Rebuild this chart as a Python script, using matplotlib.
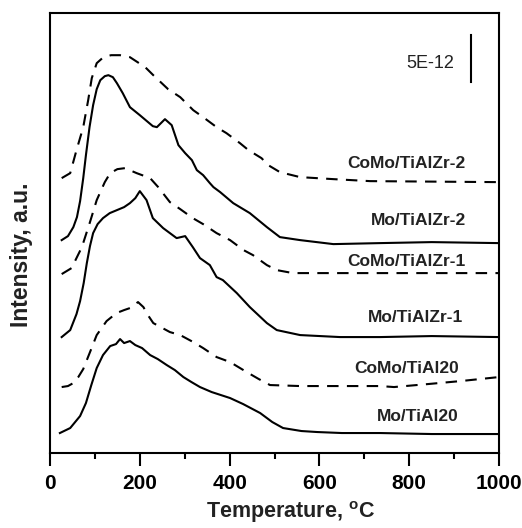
import numpy as np
import matplotlib.pyplot as plt

plt.rcParams['font.family'] = ['Liberation Sans', 'DejaVu Sans']
plt.rcParams['mathtext.fontset'] = 'custom'
plt.rcParams['mathtext.bf'] = 'Liberation Sans:bold'
plt.rcParams['mathtext.rm'] = 'Liberation Sans:bold'

# TPD traces, offset stacked (arbitrary units)
t_mo_tial20 = [22, 45, 67, 80, 92, 104, 118, 134, 147, 156, 165, 178, 190, 205, 223, 240, 260, 278, 297, 315, 334, 360, 401, 430, 468, 495, 519, 560, 595, 650, 735, 850, 1000]
i_mo_tial20 = [20, 25, 37, 50, 68, 85, 98, 107, 109, 114, 110, 112, 108, 105, 98, 94, 88, 83, 76, 71, 66, 61, 55, 49, 40, 31, 25, 22, 21, 20, 20, 19, 19]

t_como_tial20 = [26, 40, 52, 63, 74, 90, 104, 126, 148, 165, 178, 196, 208, 218, 230, 267, 290, 319, 341, 371, 401, 438, 465, 490, 557, 650, 735, 766, 842, 915, 1000]
i_como_tial20 = [66, 67, 70, 76, 84, 102, 118, 132, 140, 143, 145, 151, 146, 138, 130, 121, 118, 111, 105, 96, 91, 81, 74, 68, 67, 67, 67, 66, 69, 72, 76]

t_mo_tialzr1 = [26, 45, 59, 67, 75, 82, 89, 96, 106, 118, 133, 149, 165, 178, 190, 200, 215, 229, 252, 282, 301, 318, 334, 356, 371, 385, 416, 445, 483, 505, 557, 646, 735, 850, 1000]
i_mo_tialzr1 = [116, 123, 139, 152, 170, 190, 207, 220, 229, 235, 240, 243, 246, 250, 255, 262, 253, 235, 225, 215, 217, 206, 195, 188, 176, 173, 160, 146, 130, 123, 118, 116, 116, 117, 116]

t_como_tialzr1 = [26, 48, 71, 89, 104, 122, 134, 150, 167, 193, 223, 241, 267, 290, 318, 341, 371, 401, 431, 452, 483, 505, 541, 640, 735, 850, 1000]
i_como_tialzr1 = [179, 185, 206, 231, 253, 271, 280, 284, 285, 280, 275, 266, 251, 244, 235, 229, 220, 213, 203, 198, 188, 183, 180, 180, 180, 180, 180]

t_mo_tialzr2 = [26, 40, 52, 60, 67, 74, 80, 88, 96, 104, 112, 122, 130, 140, 149, 162, 178, 200, 229, 238, 256, 271, 286, 301, 316, 327, 341, 356, 364, 379, 408, 445, 483, 512, 557, 631, 735, 850, 1000]
i_mo_tialzr2 = [213, 217, 226, 236, 252, 275, 298, 326, 348, 364, 373, 377, 378, 376, 370, 360, 346, 338, 327, 326, 334, 328, 308, 300, 293, 283, 278, 270, 266, 261, 250, 240, 226, 216, 213, 209, 210, 211, 210]

t_como_tialzr2 = [26, 45, 59, 74, 85, 93, 104, 119, 136, 156, 178, 212, 230, 263, 290, 319, 341, 371, 393, 423, 442, 471, 486, 512, 557, 631, 713, 1000]
i_como_tialzr2 = [275, 280, 303, 326, 353, 375, 390, 396, 398, 398, 396, 386, 378, 364, 356, 343, 336, 326, 320, 310, 303, 295, 288, 281, 276, 274, 272, 271]

series = [
    (t_mo_tial20, i_mo_tial20, '-', 'Mo/TiAl20', 911, 37),
    (t_como_tial20, i_como_tial20, '--', 'CoMo/TiAl20', 911, 85),
    (t_mo_tialzr1, i_mo_tialzr1, '-', 'Mo/TiAlZr-1', 920, 136),
    (t_como_tialzr1, i_como_tialzr1, '--', 'CoMo/TiAlZr-1', 926, 192),
    (t_mo_tialzr2, i_mo_tialzr2, '-', 'Mo/TiAlZr-2', 926, 233),
    (t_como_tialzr2, i_como_tialzr2, '--', 'CoMo/TiAlZr-2', 926, 290),
]

fig = plt.figure(figsize=(5.22, 5.28), dpi=100)
ax = fig.add_axes([0.0958, 0.142, 0.8602, 0.833])

for t, inten, ls, name, lx, ly in series:
    if ls == '--':
        ax.plot(t, inten, color='black', lw=1.5, linestyle=(0, (5.5, 4)))
    else:
        ax.plot(t, inten, color='black', lw=1.5)
    ax.text(lx, ly, name, ha='right', va='center', fontsize=12.5,
            fontweight='bold', color='#222222')

# scale bar
ax.text(900, 390, '5E-12', ha='right', va='center', fontsize=13, color='#222222')
ax.plot([938, 938], [371, 418], color='black', lw=1.5)

ax.set_xlim(0, 1000)
ax.set_ylim(0, 440)
ax.set_xticks(np.arange(0, 1001, 200))
ax.set_xticks(np.arange(100, 1000, 200), minor=True)
ax.set_yticks([])
ax.tick_params(axis='x', which='major', direction='out', length=9, width=1.5,
               labelsize=15, pad=6)
ax.tick_params(axis='x', which='minor', direction='out', length=4.5, width=1.5)
for lab in ax.get_xticklabels():
    lab.set_fontweight('bold')
for sp in ax.spines.values():
    sp.set_linewidth(1.5)

ax.set_xlabel(r'Temperature, $^{\mathbf{o}}$C', fontsize=15.5, fontweight='bold', color='#222222')
ax.set_ylabel('Intensity, a.u.', fontsize=16.5, fontweight='bold', color='#222222')
ax.xaxis.set_label_coords(0.535, -0.104)
ax.yaxis.set_label_coords(-0.038, 0.45)

fig.savefig('out.png', dpi=100)
